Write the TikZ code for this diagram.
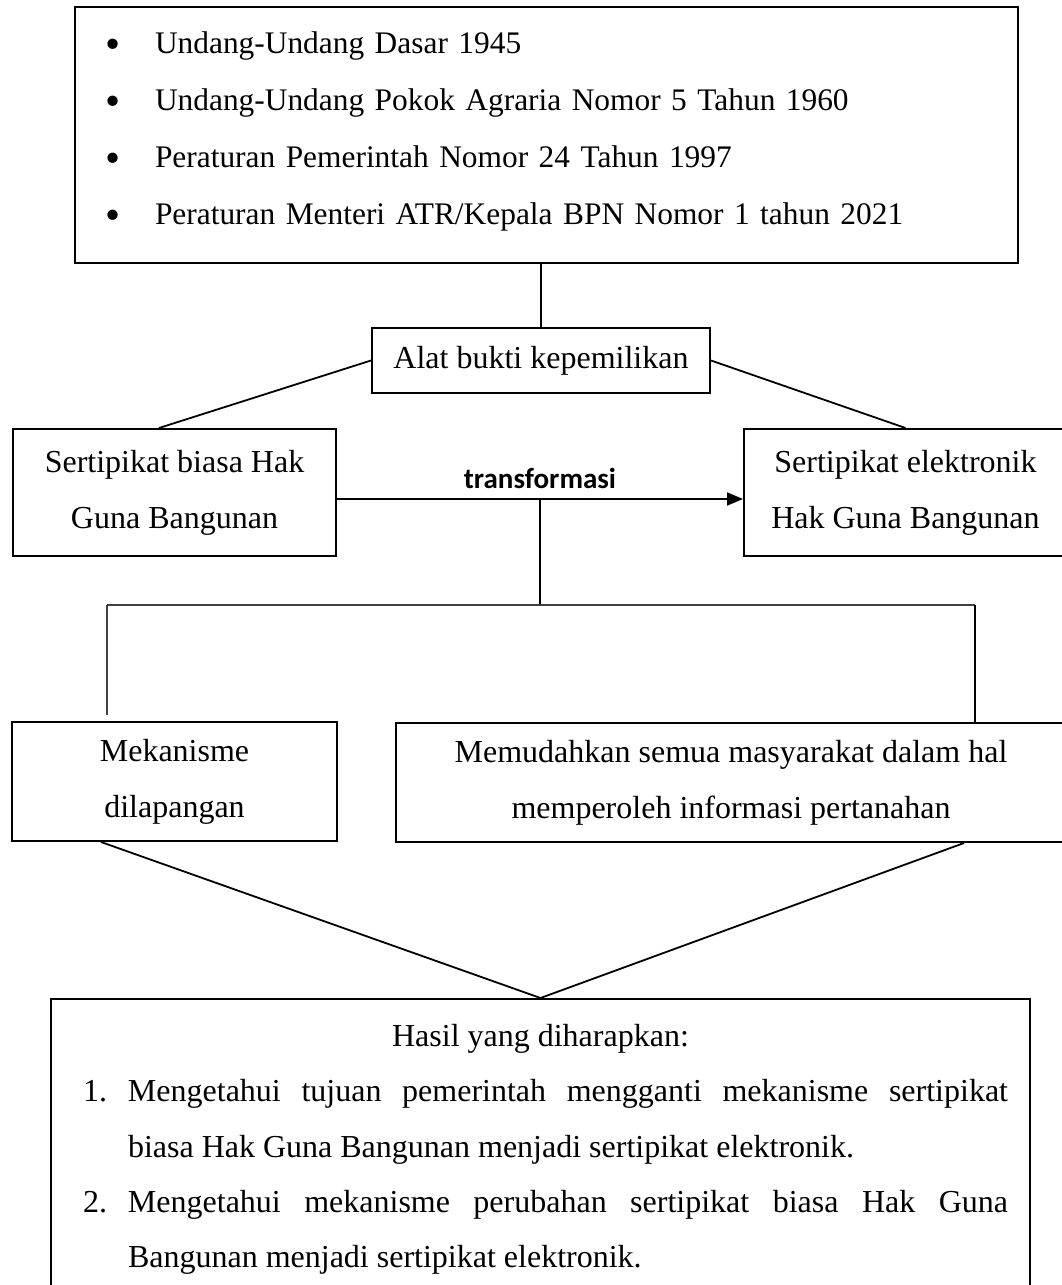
\documentclass[tikz,border=0pt]{standalone}
\usepackage{fontspec}
\setmainfont{Liberation Serif}
\newfontfamily\labelfont{Carlito}
\usetikzlibrary{arrows.meta}
\usetikzlibrary{calc}
\tikzset{
   box/.style={draw, line width=1pt, inner sep=0pt, align=center,
      font=\fontsize{16pt}{28pt}\selectfont},
   link/.style={draw, line width=0.9pt},
   thinlink/.style={draw=black!75, line width=0.6pt},
   translabel/.style={font=\labelfont\bfseries\fontsize{14.5pt}{16pt}\selectfont,
      inner sep=4.5pt},
    }
\newcommand{\lawbullet}{\makebox[25.5pt][l]{\hspace{1pt}\raisebox{-2.5pt}{\scalebox{1.37}{\textbullet}}}}
\newcommand{\goalitem}[2]{{\leftskip=5pt \hangindent=22.5pt \hangafter=1
   \noindent\makebox[22.5pt][l]{#1}#2\par}}

\begin{document}
\begin{tikzpicture}[x=0.5pt, y=-0.5pt]
    \useasboundingbox (0,0) rectangle (1061,1285);
    \node[box, minimum width=471.5pt, minimum height=128pt, text width=442.5pt,
          inner xsep=14.5pt, align=left, font=\fontsize{15.7pt}{28.5pt}\selectfont]
          (laws) at (546.5,135) {%
        \lawbullet Undang-Undang Dasar 1945\\
        \lawbullet Undang-Undang Pokok Agraria Nomor 5 Tahun 1960\\
        \lawbullet Peraturan Pemerintah Nomor 24 Tahun 1997\\
        \lawbullet Peraturan Menteri ATR/Kepala BPN Nomor 1 tahun 2021\rule[-7pt]{0pt}{0pt}};
    \node[box, minimum width=169pt, minimum height=32.5pt] (alat) at (541,360.5) {Alat bukti kepemilikan};
    \node[box, minimum width=161.5pt, minimum height=63.5pt] (sb) at (174.5,492.5) {Sertipikat biasa Hak\\Guna Bangunan};
    \node[box, minimum width=161.5pt, minimum height=63.5pt] (se) at (905.5,492.5) {Sertipikat elektronik\\Hak Guna Bangunan};
    \node[box, minimum width=162.5pt, minimum height=59.5pt] (mek) at (174.5,781.5) {Mekanisme\\dilapangan};
    \node[box, minimum width=335pt, minimum height=59.5pt] (mem) at (731,782.5) {Memudahkan semua masyarakat dalam hal\\memperoleh informasi pertanahan};
    \node[box, anchor=north, text width=467.5pt, inner xsep=11pt, inner ysep=12.5pt,
          align=justify, font=\fontsize{16pt}{27.7pt}\selectfont] (hasil) at (540.5,998) {%
        \tolerance=10000 \hyphenpenalty=10000
        {\centering Hasil yang diharapkan:\par}
        \goalitem{1.}{Mengetahui tujuan pemerintah mengganti mekanisme sertipikat\linebreak
           biasa Hak Guna Bangunan menjadi sertipikat elektronik.}
        \goalitem{2.}{Mengetahui mekanisme perubahan sertipikat biasa Hak Guna\linebreak
           Bangunan menjadi sertipikat elektronik.}};

    \coordinate (splitL) at (107,605);
    \coordinate (splitR) at (975,605);

    \draw[link] (alat.north) -- (alat.north |- laws.south);
    \draw[link] (alat.west) -- ([xshift=-7.75pt]sb.north);
    \draw[link] (alat.east) -- (se.north);
    \draw[link, -{Triangle[length=8pt,width=6.5pt]}] ([yshift=-3.25pt]sb.east)
        -- coordinate (tmid) node[midway, above, translabel] (trans) {transformasi} ([yshift=-3.25pt]se.west);
    \draw[link] (tmid) -- (tmid |- splitL);
    \draw[thinlink] (splitL) -- (splitR);
    \draw[thinlink] (splitL) -- ([yshift=3pt]splitL |- mek.north);
    \draw[link] (splitR) -- (splitR |- mem.north);
    \draw[link] ([xshift=-36.75pt]mek.south) -- (hasil.north);
    \draw[link] ([xshift=116.5pt]mem.south) -- (hasil.north);
\end{tikzpicture}
\end{document}
